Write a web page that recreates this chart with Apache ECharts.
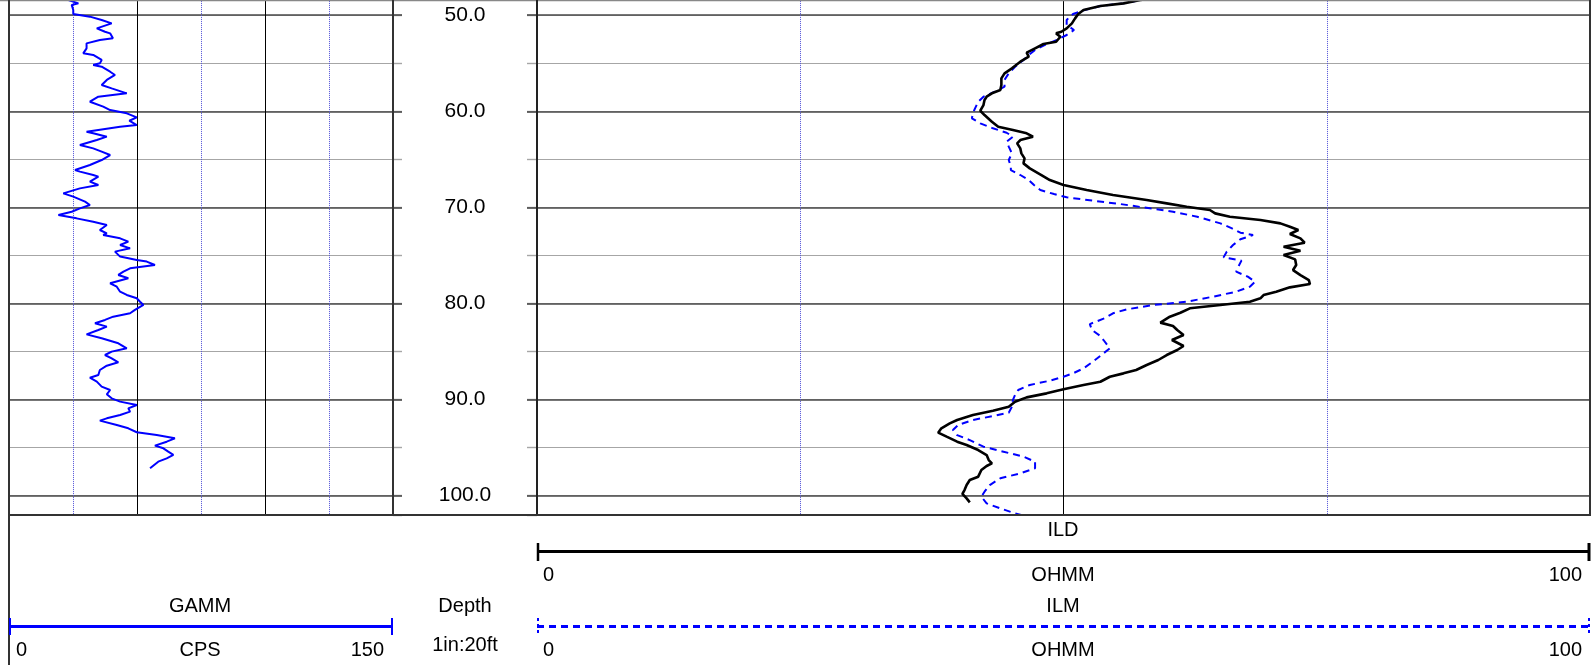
<!DOCTYPE html>
<html>
<head>
<meta charset="utf-8">
<script src="https://cdn.jsdelivr.net/npm/echarts@6/dist/echarts.min.js"></script>
<style>
html,body{margin:0;padding:0;background:#fff;}
#chart{width:1591px;height:665px;}
</style>
</head>
<body>
<div id="chart"></div>
<script>
// ---- Data ----
const gammDepth = [48.0,48.42,48.77,48.94,49.46,49.88,50.15,50.50,50.85,51.37,51.72,51.89,52.41,52.58,52.93,53.45,53.97,54.14,54.66,55.01,55.18,55.36,55.88,56.22,56.74,57.26,57.61,58.13,58.48,59.00,59.52,59.87,60.21,60.63,60.98,61.43,61.60,62.12,62.29,62.64,62.99,63.51,63.86,64.20,64.55,65.07,65.59,66.11,66.28,66.63,66.80,67.32,67.67,68.02,68.54,68.88,69.40,69.75,70.10,70.45,70.79,71.14,71.49,71.83,72.35,72.70,72.87,73.22,73.56,73.91,74.26,74.60,75.12,75.47,75.64,75.99,76.34,76.69,77.03,77.38,77.90,78.25,78.77,79.11,79.46,79.81,80.15,80.67,81.02,81.37,81.71,82.06,82.41,82.76,83.21,83.62,84.14,84.66,85.01,85.36,85.70,86.12,86.47,86.92,87.44,87.72,88.13,88.65,89.00,89.45,89.87,90.21,90.56,90.91,91.25,91.60,91.95,92.19,92.64,92.99,93.40,93.68,94.03,94.38,94.79,95.07,95.42,95.76,96.11,96.46,97.15];
const gammCps = [24.0,23.2,27.1,24.5,25.1,25.1,31.6,36.2,40.1,34.3,37.5,39.5,40.6,35.5,30.3,30.3,29.0,32.9,36.2,35.5,32.9,36.2,39.5,41.4,38.2,36.2,40.1,46.0,34.9,31.6,36.8,39.5,46.0,49.9,47.0,49.9,43.4,30.3,32.9,38.2,34.3,27.7,32.9,36.2,39.5,36.2,31.6,25.8,27.7,32.9,34.9,31.6,34.9,27.7,21.2,25.1,29.7,31.6,27.7,24.5,19.3,26.4,32.9,38.2,35.5,38.2,36.8,43.4,46.6,43.4,47.3,41.4,43.4,49.9,53.8,57.0,47.3,44.7,42.7,46.6,39.5,42.1,43.4,46.0,49.9,51.2,52.5,49.2,47.3,40.7,37.5,33.6,38.2,34.9,30.3,36.2,42.7,46.0,40.1,37.5,40.1,42.7,38.2,35.5,34.9,31.6,34.3,36.2,39.5,38.2,40.1,43.4,49.9,46.6,47.3,43.4,38.2,35.5,42.1,46.6,49.9,57.7,64.8,61.6,57.0,60.3,62.2,64.2,61.6,58.3,55.1];

const ildDepth = [47.9,48.42,48.77,49.04,49.46,49.88,50.33,50.85,51.37,51.72,51.89,52.24,52.76,53.00,53.45,53.90,54.32,54.84,55.53,56.05,56.57,57.26,57.79,58.13,58.48,58.83,59.35,59.94,60.39,61.08,61.60,61.95,62.29,62.64,62.99,63.34,63.86,64.38,64.90,65.42,65.94,66.63,67.15,67.67,68.19,68.71,69.23,69.58,69.93,70.27,70.62,70.97,71.31,71.66,72.01,72.35,72.77,73.22,73.67,74.09,74.50,74.96,75.41,75.99,76.52,77.04,77.56,77.97,78.32,78.77,79.12,79.46,79.81,80.16,80.50,80.96,81.37,81.99,82.34,82.76,83.28,83.80,84.42,84.84,85.36,85.88,86.40,86.92,87.27,87.62,88.14,88.48,88.93,89.35,89.77,90.22,90.74,91.15,91.60,92.12,92.47,92.99,93.44,93.86,94.38,94.73,95.25,95.77,96.29,96.63,96.91,97.33,98.02,98.37,98.89,99.41,99.82,100.28,100.69];
const ildOhmm = [61.5,57.3,55.7,53.5,51.9,51.4,51.1,50.8,50.3,49.8,49.3,49.7,49.3,48.1,47.3,46.5,46.7,45.9,45.1,44.4,44.1,44.1,44.0,43.2,42.7,42.5,42.4,42.1,42.5,43.2,43.8,45.2,46.5,47.1,45.9,45.6,45.9,46.0,46.3,46.2,46.8,47.9,48.7,50.0,52.2,54.7,57.9,59.8,61.7,63.9,64.4,65.8,68.7,70.6,71.5,72.3,71.5,72.5,72.9,70.9,72.5,70.9,72.0,72.1,71.8,72.5,73.3,73.4,71.5,70.2,69.0,68.7,67.7,64.9,62.0,61.1,60.1,59.2,60.4,60.8,61.4,60.3,61.4,60.8,59.8,59.0,57.9,56.9,55.7,54.4,53.5,51.9,50.0,48.4,46.5,45.4,44.8,43.3,41.4,39.9,39.2,38.4,38.1,38.9,39.9,40.8,41.9,42.7,42.9,43.2,42.7,42.2,41.9,41.1,40.8,40.6,40.4,40.8,41.1];

const ilmDepth = [47.9,48.42,48.77,49.04,49.46,49.88,50.15,50.50,51.02,51.54,52.06,52.51,53.10,53.62,54.14,54.66,55.36,56.05,56.74,57.44,57.96,58.48,59.00,59.69,60.21,60.73,61.25,61.77,62.23,62.64,63.16,63.68,64.38,65.07,65.76,66.11,66.63,67.15,67.67,68.19,68.61,68.95,69.30,69.65,70.10,70.45,70.97,71.66,72.18,72.63,72.87,73.32,73.91,74.61,75.20,75.54,76.17,76.69,77.21,77.73,78.25,78.77,79.29,79.81,80.16,80.61,81.02,81.54,82.14,82.76,83.38,83.80,84.67,85.36,86.05,86.75,87.27,87.62,88.03,88.48,89.00,89.52,90.04,90.74,91.36,91.71,92.12,92.64,93.17,93.69,94.21,94.90,95.42,95.94,96.46,97.15,97.67,98.19,98.89,99.58,100.10,100.80,101.32,101.84,102.3];
const ilmOhmm = [61.5,57.3,55.7,53.5,52.0,50.9,50.6,50.3,50.3,51.0,50.3,49.5,48.2,47.3,46.7,46.2,45.4,44.8,44.4,44.4,43.5,42.4,41.9,41.6,41.4,41.3,42.1,43.3,44.6,45.2,44.6,44.8,45.1,44.8,45.0,45.0,45.9,46.7,47.2,47.8,49.1,50.3,52.8,55.4,58.2,60.4,62.7,64.9,66.0,66.8,68.0,66.8,66.1,65.5,65.2,66.9,66.6,66.4,67.5,68.2,67.7,66.4,64.2,61.7,58.5,56.0,54.7,53.9,52.5,52.7,53.5,53.8,54.4,53.6,52.8,51.9,50.9,50.0,48.7,46.8,45.7,45.4,45.2,45.1,44.8,43.3,41.4,40.0,39.5,39.9,41.1,42.4,44.3,46.2,47.3,47.3,45.9,44.0,43.0,42.5,42.2,42.7,44.0,45.4,47.0];

const headerLabels = {
  gamm: ['GAMM', 'CPS', '0', '150'],
  depth: ['Depth', '1in:20ft'],
  ild: ['ILD', 'OHMM', '0', '100'],
  ilm: ['ILM', 'OHMM', '0', '100']
};

// ---- Layout ----
const depthMin = 40, depthMax = 102;
const pxPerFt = 9.61;
const y50 = 15.2;
const gridTop = y50 - (50 - depthMin) * pxPerFt;
const gridH = (depthMax - depthMin) * pxPerFt;
const trackBottom = gridTop + gridH;

const FONT = '"Liberation Sans", Arial, sans-serif';
const MAJ = '#4a4a4a', MIN = '#a6a6a6', DOT = '#5050d8';

function hideAxis(extra) {
  return Object.assign({
    type: 'value', inverse: true, min: depthMin, max: depthMax,
    axisLine: {show: false}, axisTick: {show: false}, axisLabel: {show: false}
  }, extra);
}

const yAxes = [
  hideAxis({gridIndex: 0, interval: 5, z: 0, splitLine: {show: true, lineStyle: {color: MIN, width: 1.2}}}),
  hideAxis({gridIndex: 0, interval: 10, z: 1, splitLine: {show: true, lineStyle: {color: MAJ, width: 1.6}}}),
  hideAxis({gridIndex: 1, interval: 5, position: 'left', z: 0, splitLine: {show: false},
    axisTick: {show: true, inside: true, length: 9, lineStyle: {color: MIN, width: 1.4}}}),
  hideAxis({gridIndex: 1, interval: 10, position: 'left', z: 1, splitLine: {show: false},
    axisTick: {show: true, inside: true, length: 9, lineStyle: {color: MAJ, width: 1.6}},
    axisLabel: {show: true, inside: true, margin: 72, align: 'center', verticalAlign: 'middle',
      fontFamily: FONT, fontSize: 21, color: '#000', padding: [4, 0, 0, 0],
      formatter: v => (Math.abs(v % 10) < 1e-6 ? v.toFixed(1) : '')}}),
  hideAxis({gridIndex: 1, interval: 5, position: 'right', z: 0, splitLine: {show: false},
    axisTick: {show: true, inside: true, length: 10, lineStyle: {color: MIN, width: 1.4}}}),
  hideAxis({gridIndex: 1, interval: 10, position: 'right', z: 1, splitLine: {show: false},
    axisTick: {show: true, inside: true, length: 10, lineStyle: {color: MAJ, width: 1.6}}}),
  hideAxis({gridIndex: 2, interval: 5, z: 0, splitLine: {show: true, lineStyle: {color: MIN, width: 1.2}}}),
  hideAxis({gridIndex: 2, interval: 10, z: 1, splitLine: {show: true, lineStyle: {color: MAJ, width: 1.6}}})
];

function trackX(gridIndex, max) {
  return {
    gridIndex, type: 'value', min: 0, max: max, interval: 50, z: 2,
    axisLine: {show: false}, axisTick: {show: false}, axisLabel: {show: false},
    splitLine: {show: true, lineStyle: {color: '#000', width: 1}},
    minorTick: {show: false, splitNumber: 2},
    minorSplitLine: {show: true, lineStyle: {color: DOT, width: 1, type: 'dotted'}}
  };
}

const L = (x1, y1, x2, y2, stroke, w, dash) => ({
  type: 'line', z: 50, silent: true,
  shape: {x1, y1, x2, y2},
  style: {stroke, lineWidth: w, lineDash: dash || null}
});
const T = (text, x, y, align) => ({
  type: 'text', z: 50, silent: true, x, y,
  style: {text, fill: '#000', font: '20px ' + FONT, textAlign: align || 'center', textVerticalAlign: 'middle'}
});

const BORDER = '#333';
const graphics = [
  L(0, 0.5, 1591, 0.5, '#888', 1.5),
  L(9, 0, 9, 665, BORDER, 2),
  L(393, 0, 393, trackBottom, BORDER, 2),
  L(537, 0, 537, trackBottom, '#222', 2),
  L(1590, 0, 1590, trackBottom, BORDER, 2),
  L(9, trackBottom, 1591, trackBottom, BORDER, 2),
  L(537, 551.5, 1590, 551.5, '#000', 3),
  L(538, 543, 538, 561, '#000', 2.5),
  L(1589, 543, 1589, 561, '#000', 3),
  L(537, 626.5, 1590, 626.5, '#0000ff', 3, [7, 5]),
  L(538, 618, 538, 635, '#0000ff', 2, [3, 3]),
  L(1589, 618, 1589, 635, '#0000ff', 2, [3, 3]),
  L(9, 626.5, 393, 626.5, '#0000ff', 3),
  L(10, 618, 10, 635, '#0000ff', 2),
  L(392, 618, 392, 635, '#0000ff', 2),
  T(headerLabels.ild[0], 1063, 530),
  T(headerLabels.ild[2], 543, 575, 'left'),
  T(headerLabels.ild[1], 1063, 575),
  T(headerLabels.ild[3], 1582, 575, 'right'),
  T(headerLabels.ilm[0], 1063, 606),
  T(headerLabels.ilm[2], 543, 650, 'left'),
  T(headerLabels.ilm[1], 1063, 650),
  T(headerLabels.ilm[3], 1582, 650, 'right'),
  T(headerLabels.gamm[0], 200, 606),
  T(headerLabels.gamm[2], 16, 650, 'left'),
  T(headerLabels.gamm[1], 200, 650),
  T(headerLabels.gamm[3], 384, 650, 'right'),
  T(headerLabels.depth[0], 465, 606),
  T(headerLabels.depth[1], 465, 645)
];

const chart = echarts.init(document.getElementById('chart'), null, {renderer: 'canvas'});
chart.setOption({
  animation: false,
  backgroundColor: '#fff',
  grid: [
    {left: 9, top: gridTop, width: 384, height: gridH, outerBoundsMode: 'none', containLabel: false},
    {left: 393, top: gridTop, width: 144, height: gridH, outerBoundsMode: 'none', containLabel: false},
    {left: 537, top: gridTop, width: 1053, height: gridH, outerBoundsMode: 'none', containLabel: false}
  ],
  xAxis: [
    trackX(0, 150),
    {gridIndex: 1, type: 'value', min: 0, max: 1, show: false},
    trackX(2, 100)
  ],
  yAxis: yAxes,
  series: [
    {name: 'GAMM', type: 'line', xAxisIndex: 0, yAxisIndex: 1, showSymbol: false, z: 5,
      data: gammDepth.map((d, i) => [gammCps[i], d]),
      lineStyle: {color: '#0000ff', width: 2}},
    {name: 'ILM', type: 'line', xAxisIndex: 2, yAxisIndex: 7, showSymbol: false, z: 5,
      data: ilmDepth.map((d, i) => [ilmOhmm[i], d]),
      lineStyle: {color: '#0000ff', width: 2, type: [7, 5]}},
    {name: 'ILD', type: 'line', xAxisIndex: 2, yAxisIndex: 7, showSymbol: false, z: 6,
      data: ildDepth.map((d, i) => [ildOhmm[i], d]),
      lineStyle: {color: '#000', width: 2.6}}
  ],
  graphic: graphics
});
</script>
</body>
</html>
